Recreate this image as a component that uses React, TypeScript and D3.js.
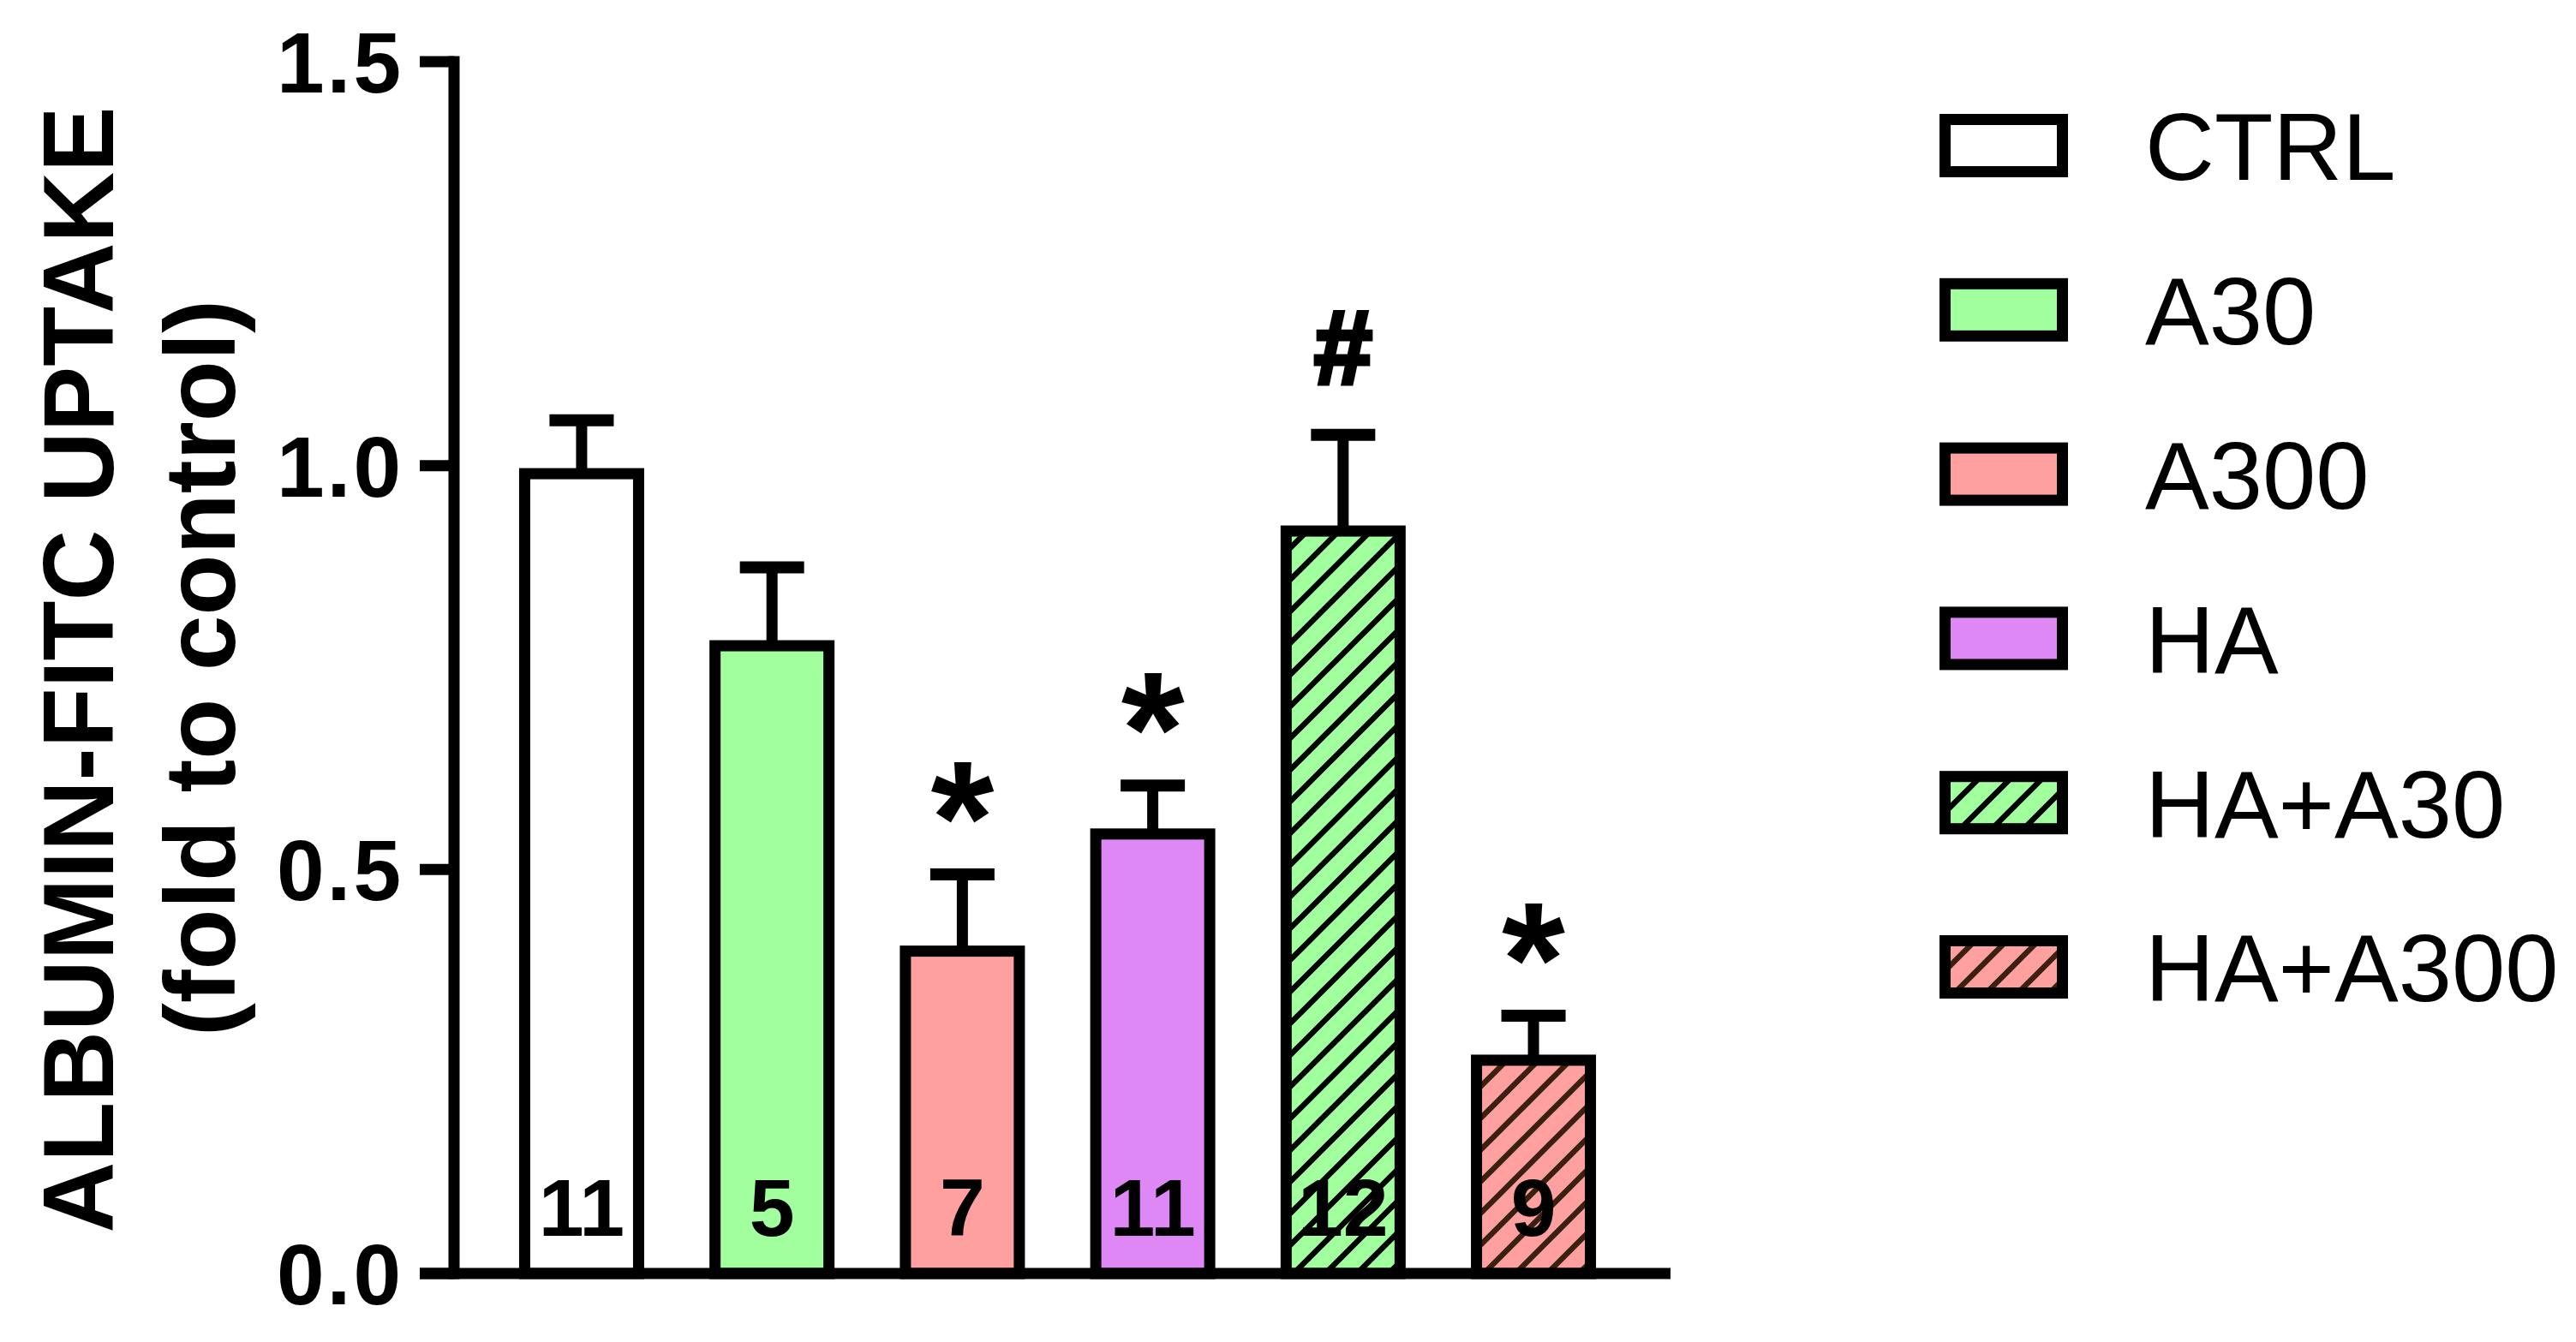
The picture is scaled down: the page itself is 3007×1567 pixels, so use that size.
import React from "react";
import * as d3 from "d3";

const categories = ["CTRL", "A30", "A300", "HA", "HA+A30", "HA+A300"];
const means = [0.99, 0.777, 0.399, 0.544, 0.919, 0.264];
const sems = [0.066, 0.097, 0.095, 0.06, 0.119, 0.055];
const nLabels = ["11", "5", "7", "11", "12", "9"];
const sigMarks = ["", "", "*", "*", "#", "*"];
const fills = ["#ffffff", "#a2ff9e", "#ffa0a0", "#dd88f5", "#a2ff9e", "#ffa0a0"];
const hatched = [false, false, false, false, true, true];
const hatchColors = ["#000", "#000", "#000", "#000", "#000000", "#3a2010"];
const yTicks = [0, 0.5, 1.0, 1.5];
const yTitle = "ALBUMIN-FITC UPTAKE";
const ySubTitle = "(fold to control)";

const W = 3007;
const H = 1567;
const FONT = "'Liberation Sans', Arial, Helvetica, sans-serif";

export default function App() {
  const y = d3.scaleLinear().domain([0, 1.5]).range([1487, 72]);
  const x = d3
    .scaleBand<string>()
    .domain(categories)
    .range([530, 1939])
    .paddingInner(0.4015)
    .paddingOuter(0.371);
  const bw = x.bandwidth();
  const axisX = 530;
  const sw = 13;

  const legendY = d3.scalePoint<string>().domain(categories).range([170, 1129]);

  const fillFor = (i: number) => (hatched[i] ? `url(#hatch${i})` : fills[i]);

  return (
    <svg
      width={W}
      height={H}
      viewBox={`0 0 ${W} ${H}`}
      style={{ position: "absolute", left: 0, top: 0, background: "#fff" }}
      fontFamily={FONT}
    >
      <defs>
        {categories.map((c, i) =>
          hatched[i] ? (
            <pattern
              key={c}
              id={`hatch${i}`}
              patternUnits="userSpaceOnUse"
              width={37}
              height={37}
            >
              <rect width={37} height={37} fill={fills[i]} />
              <path
                d="M-9.25,9.25 L9.25,-9.25 M0,37 L37,0 M27.75,46.25 L46.25,27.75"
                stroke={hatchColors[i]}
                strokeWidth={6.5}
              />
            </pattern>
          ) : null
        )}
      </defs>
      <rect width={W} height={H} fill="#fff" />

      {/* y-axis title */}
      <text
        transform={`translate(132,782) rotate(-90)`}
        textAnchor="middle"
        fontWeight="bold"
        fontSize={117}
        textLength={1315}
        lengthAdjust="spacingAndGlyphs"
      >
        {yTitle}
      </text>
      <text
        transform={`translate(274,780) rotate(-90)`}
        textAnchor="middle"
        fontWeight="bold"
        fontSize={117}
        textLength={860}
        lengthAdjust="spacingAndGlyphs"
      >
        {ySubTitle}
      </text>

      {/* bars */}
      {categories.map((c, i) => {
        const x0 = x(c)!;
        const top = y(means[i]);
        const cx = x0 + bw / 2;
        const capY = y(means[i] + sems[i]);
        const isHash = sigMarks[i] === "#";
        return (
          <g key={c}>
            <line x1={cx} x2={cx} y1={top} y2={capY} stroke="#000" strokeWidth={sw} />
            <line x1={cx - 37.5} x2={cx + 37.5} y1={capY} y2={capY} stroke="#000" strokeWidth={14} />
            <rect
              x={x0}
              y={top}
              width={bw}
              height={y(0) - top}
              fill={fillFor(i)}
              stroke="#000"
              strokeWidth={sw}
            />
            <text
              x={cx}
              y={1443}
              textAnchor="middle"
              fontWeight="bold"
              fontSize={95}
              fill="#000"
            >
              {nLabels[i]}
            </text>
            {sigMarks[i] && (
              <text
                x={cx}
                y={isHash ? capY - 60 : capY - 73}
                textAnchor="middle"
                fontWeight="bold"
                fontSize={isHash ? 122 : 190}
                dy={isHash ? 0 : "0.38em"}
                stroke={isHash ? "#000" : "none"}
                strokeWidth={isHash ? 5 : 0}
              >
                {sigMarks[i]}
              </text>
            )}
          </g>
        );
      })}

      {/* y axis */}
      <line x1={axisX} x2={axisX} y1={y(1.5) - 6.5} y2={y(0) + 6.5} stroke="#000" strokeWidth={sw} />
      {yTicks.map((t) => (
        <g key={t}>
          <line x1={490} x2={axisX} y1={y(t)} y2={y(t)} stroke="#000" strokeWidth={sw} />
          <text
            x={471}
            y={y(t)}
            dy="0.36em"
            textAnchor="end"
            fontWeight="bold"
            fontSize={100}
            letterSpacing={3}
          >
            {t.toFixed(1)}
          </text>
        </g>
      ))}
      {/* x axis */}
      <line x1={490} x2={1950} y1={y(0)} y2={y(0)} stroke="#000" strokeWidth={sw} />

      {/* legend */}
      {categories.map((c, i) => {
        const cy = legendY(c)!;
        return (
          <g key={"lg" + c}>
            <rect
              x={2270.5}
              y={cy - 30.5}
              width={137}
              height={61}
              fill={fillFor(i)}
              stroke="#000"
              strokeWidth={sw}
            />
            <text x={2504} y={cy} dy="0.36em" fontSize={112}>
              {c}
            </text>
          </g>
        );
      })}
    </svg>
  );
}
